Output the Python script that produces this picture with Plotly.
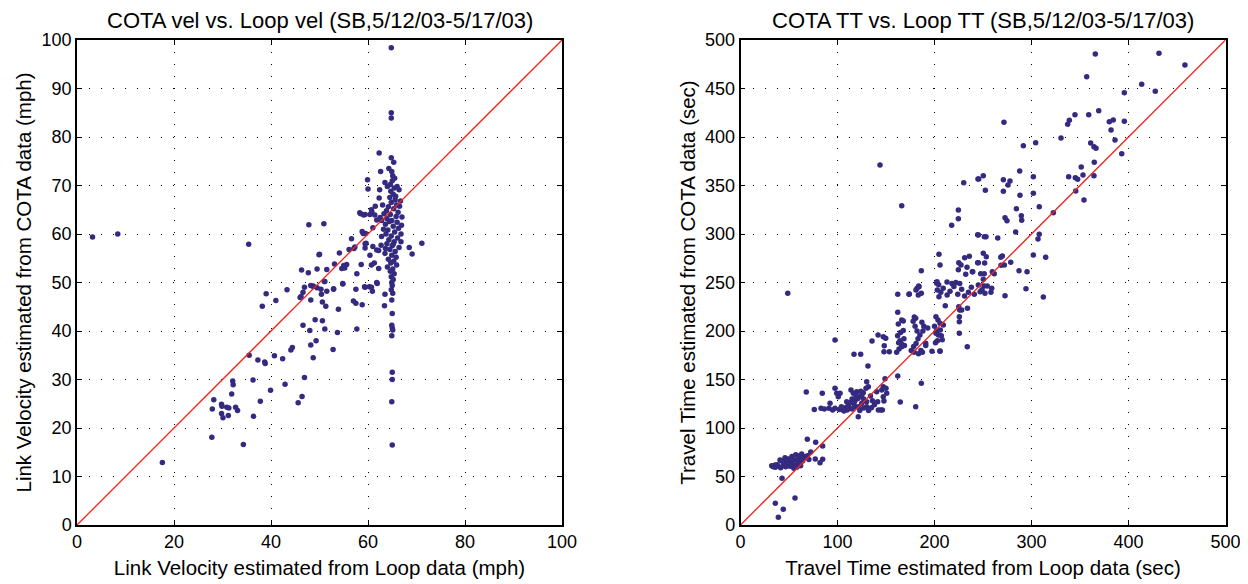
import plotly.graph_objects as go

# ---------------- Left panel: velocities (mph) ----------------
loop_vel = [
    3.2, 8.4, 17.6, 27.8, 34.3, 27.9, 28.2, 29.8, 29.9, 29.8, 30.1, 30.9, 31.3, 31.2, 31.9, 32.1, 32.2, 32.7, 33.1,
    35.5, 36.3, 36.4, 37.3, 37.8, 38.7, 38.8, 39.9, 40.7, 42.4, 42.9, 44.1, 44.4, 45.6, 46.4, 46.9,
    46.6, 48.0, 48.2, 48.7, 49.1, 49.3, 50.6, 51.1, 52.8, 53.7, 57.7,
    38.2, 39.0, 41.0, 43.3, 46.0, 46.6, 46.9, 46.2, 48.2, 48.2, 48.7, 49.5, 50.4, 50.6, 51.3, 51.5, 52.9, 53.9,
    51.1, 54.8, 57.0, 57.5, 58.8, 59.3, 60.3, 60.9, 61.9, 63.5, 63.4, 57.5,
    35.4, 47.8, 50.9, 49.9, 50.0, 46.3, 47.7, 49.5, 51.5, 53.1, 54.6, 55.0, 55.6, 55.2, 54.1, 56.1, 57.1, 56.6,
    57.3, 58.5, 59.4, 60.4, 60.7, 61.5, 58.8, 59.5, 59.0, 59.6, 61.0, 61.8, 59.4, 59.4, 60.4, 62.2, 62.7, 61.3,
    62.2, 60.7, 58.6, 57.7, 61.8, 59.4, 60.7, 54.8, 48.7, 51.0, 52.9, 50.3,
    59.9, 60.0, 62.3, 62.6, 63.5, 62.4, 62.3, 66.4, 62.5, 62.8, 61.0, 66.8, 66.8, 71.1, 68.5, 69.1, 58.3, 59.1,
    60.8, 61.4, 61.8,
    64.8, 64.8, 64.8, 64.8, 65.3, 64.9, 65.1, 65.0, 64.6, 65.4, 64.7, 65.2, 64.5, 65.6, 64.8, 65.9, 64.2, 65.3,
    63.8, 66.2, 64.6, 65.8, 63.9, 64.9, 66.0, 63.6, 65.2, 66.3, 64.1, 65.5, 63.7, 64.8, 66.1, 64.3, 65.4, 63.9,
    65.0, 66.4, 64.5, 65.6, 63.5, 64.9, 65.8, 64.2, 65.3, 64.7, 65.9, 64.0, 65.1, 64.6, 65.4, 64.8, 65.2, 64.9,
    65.0, 64.8, 65.1, 64.9, 65.0, 64.9, 65.0, 65.1, 64.9, 65.0, 65.0, 64.9, 65.0,
    63.0, 63.3, 64.0, 66.5, 67.0, 66.7, 63.2, 62.8, 66.9, 65.5, 64.3, 65.7, 64.4, 65.2, 63.6, 66.0,
]
cota_vel = [
    59.4, 60.0, 12.9, 18.1, 16.6, 23.9, 25.8, 24.9, 24.5, 23.0, 22.1, 24.3, 24.1, 22.6, 27.0, 29.7, 28.9, 24.3, 23.6,
    35.0, 29.9, 22.4, 34.0, 25.5, 33.6, 33.3, 27.8, 34.9, 34.3, 29.0, 36.1, 36.6, 25.2, 26.5, 30.4,
    41.2, 40.1, 37.1, 34.5, 42.3, 38.0, 42.1, 40.4, 36.2, 39.7, 40.4,
    45.1, 47.7, 46.3, 48.5, 46.9, 48.0, 49.0, 47.1, 46.4, 49.4, 49.2, 48.9, 47.6, 46.0, 45.1, 48.2, 48.6, 44.5,
    50.2, 49.7, 46.2, 45.7, 45.4, 49.1, 49.1, 48.2, 49.8, 47.6, 45.2, 48.6,
    57.9, 61.9, 62.1, 55.7, 55.8, 52.6, 52.0, 52.8, 52.7, 53.8, 52.9, 53.5, 53.7, 53.0, 56.1, 56.8, 57.0, 59.0,
    57.3, 64.2, 64.0, 64.0, 65.0, 65.7, 60.5, 60.1, 60.1, 58.1, 57.4, 56.7, 58.0, 57.1, 55.6, 56.6, 57.7, 54.0,
    52.9, 53.6, 53.7, 51.8, 50.0, 49.0, 49.0, 49.8, 49.3, 50.2, 48.7, 48.6,
    71.2, 69.3, 76.7, 72.9, 70.6, 69.1, 67.4, 69.1, 63.4, 62.8, 61.3, 60.0, 58.4, 58.1, 57.2, 55.9, 64.4, 63.9,
    64.6, 63.9, 62.9,
    98.4, 85.0, 83.9, 75.7, 74.8, 72.9, 72.0, 71.0, 70.2, 69.5, 68.8, 68.2, 67.5, 67.0, 66.5, 66.0, 65.6, 65.2,
    64.8, 64.5, 64.0, 63.6, 63.2, 62.8, 62.4, 62.0, 61.6, 61.2, 60.8, 60.4, 60.0, 59.6, 59.2, 58.8, 58.4, 58.0,
    57.6, 57.2, 56.8, 56.4, 56.0, 55.6, 55.2, 54.8, 54.4, 54.0, 53.6, 53.2, 52.8, 52.3, 51.8, 51.2, 50.6, 50.0,
    49.4, 48.5, 47.8, 46.4, 43.6, 41.2, 40.6, 40.2, 39.0, 31.5, 30.0, 25.4, 16.5,
    66.0, 64.2, 69.8, 65.7, 63.5, 66.8, 61.0, 59.5, 61.8, 71.5, 73.5, 67.8, 62.6, 57.9, 57.0, 69.8,
]

# ---------------- Right panel: travel times (sec) ----------------
loop_tt = [
    365.8, 431.4, 458.2, 356.9, 413.6, 427.6, 395.7, 271.6, 369.3, 344.8, 359.0, 339.0, 337.3, 380.2, 384.3, 395.7,
    382.0, 386.1, 330.4, 304.3, 291.6, 361.0, 364.4, 366.5, 393.0, 364.7, 351.3, 353.1, 364.4, 338.3, 345.2, 347.6,
    345.6, 354.1, 322.5, 301.9, 301.9, 308.0, 287.8, 288.1, 284.4, 289.5, 289.9, 283.7, 272.7, 274.7, 271.0, 271.0,
    275.8, 277.8, 245.6, 250.3, 252.4, 245.2, 251.4, 253.1, 265.2, 306.7, 308.0, 301.9, 314.6, 268.3, 270.0, 278.6,
    250.3, 253.4, 245.2, 251.7, 268.6, 272.0, 259.6, 261.6, 239.4, 247.6, 251.3, 250.3, 287.1, 295.4, 245.2, 251.0,
    254.4, 259.0, 294.3, 247.0, 249.0, 252.0, 258.2, 272.7, 312.2,
    143.8, 166.2, 230.1, 244.8, 224.6, 224.6, 217.7, 244.5, 204.6, 205.7, 186.4, 225.0, 227.3, 231.1, 235.9, 233.5,
    224.6, 232.2, 239.0, 244.5, 202.6, 204.3, 212.9, 218.0, 222.0, 183.7, 182.0,
    48.7, 162.1, 173.7, 174.0, 180.9, 183.3, 186.4, 184.0, 202.3, 202.9, 204.6, 206.5, 209.0, 213.0, 216.0, 220.0,
    224.0, 228.0, 231.0, 235.0, 238.0, 226.0, 241.0,
    162.1, 166.2, 167.8, 179.2, 180.6, 201.5, 203.6, 205.7, 209.1, 201.5, 205.7, 211.1, 225.0, 225.6, 225.6, 225.6,
    233.8, 234.0, 226.0, 228.0,
    97.4, 117.0, 123.9, 131.4, 135.6, 141.8, 147.2, 149.7, 148.2, 147.9, 153.4, 161.0, 163.4, 166.2, 162.7, 167.8,
    162.0, 164.5, 166.0, 168.5, 165.0, 163.0, 169.0,
    178.0, 180.0, 182.0, 185.0, 188.0, 183.0, 181.0, 178.5, 176.0, 179.0, 183.5, 187.5, 190.9, 186.0, 191.0, 189.0,
    193.0, 187.0, 197.4, 205.7,
    200.0, 202.0, 204.0, 206.0, 207.0, 203.0, 201.0, 208.0,
    67.8, 84.3, 97.4, 99.2, 100.8, 102.6, 92.3, 76.1, 83.0, 86.4, 91.2, 97.4, 101.9, 106.7, 112.9, 118.0, 121.4,
    125.0, 130.1, 109.5, 111.1, 113.9, 116.3, 119.8, 122.5, 125.0, 126.6, 115.0, 118.0, 121.0, 121.4, 130.1, 131.8,
    129.4, 127.0, 130.0, 132.0, 140.4, 141.4, 142.1, 144.8, 146.2, 147.2, 149.0, 150.7, 147.2, 147.9, 145.6, 150.0,
    162.1, 164.7, 180.6, 186.4, 104.0, 108.0, 110.0, 115.0, 123.0, 127.0, 135.0, 138.0, 117.0, 113.0, 104.0, 95.0,
    134.0, 136.0, 124.0, 119.0,
    32.2, 33.8, 35.6, 40.7, 41.4, 45.9, 49.3, 52.8, 56.2, 59.6, 63.1, 66.5, 48.0, 51.0, 54.0, 57.5, 60.0, 62.0,
    64.0, 55.0, 58.0, 50.0, 53.0, 57.0, 61.0, 47.0, 44.0, 38.0, 36.0, 68.9, 77.5, 72.4, 77.1, 82.0, 84.7, 84.7,
    42.8, 35.9, 44.1, 39.0, 56.2, 65.0, 69.0, 70.5, 42.0, 46.5,
]
cota_tt = [
    485.6, 486.3, 474.2, 462.2, 454.3, 447.1, 445.7, 415.1, 427.1, 423.0, 423.0, 417.2, 413.1, 415.8, 417.5, 416.2,
    407.2, 396.9, 399.0, 394.1, 391.0, 393.8, 390.0, 388.3, 382.8, 373.9, 369.1, 360.8, 360.1, 359.1, 358.0, 356.4,
    344.3, 335.1, 322.0, 359.1, 342.0, 328.2, 364.9, 339.9, 326.1, 318.9, 314.1, 302.1, 316.8, 313.7, 356.0, 344.0,
    350.5, 354.6, 356.7, 360.1, 345.1, 299.0, 297.2, 297.2, 295.9, 294.8, 299.7, 278.4, 276.0, 276.0, 277.3, 270.8,
    280.1, 276.6, 270.4, 270.1, 267.7, 268.0, 261.1, 259.1, 261.1, 259.1, 259.1, 253.3, 262.2, 261.1, 247.4, 246.4,
    246.4, 244.0, 243.6, 240.5, 242.5, 239.0, 239.9, 236.4, 235.1,
    371.1, 329.2, 352.9, 356.7, 324.7, 315.8, 309.0, 299.3, 279.0, 268.0, 262.2, 270.4, 268.0, 275.6, 277.0, 265.7,
    263.2, 258.4, 261.2, 270.4, 250.8, 247.7, 250.5, 249.0, 250.0, 246.4, 244.0,
    238.9, 237.8, 237.8, 238.1, 242.3, 237.1, 238.9, 245.7, 249.2, 242.3, 235.4, 240.0, 244.0, 237.0, 241.0, 246.0,
    238.0, 243.0, 236.0, 240.0, 245.0, 249.0, 238.0,
    219.3, 211.3, 210.3, 214.4, 213.1, 214.8, 211.3, 207.9, 206.2, 197.6, 179.4, 226.1, 225.0, 214.7, 209.6, 197.6,
    183.8, 223.4, 221.6, 221.6,
    190.7, 176.0, 176.0, 163.9, 189.7, 195.9, 194.1, 192.5, 184.8, 178.7, 178.7, 178.0, 181.4, 183.8, 207.2, 200.6,
    195.0, 190.0, 186.5, 192.0, 198.5, 188.0, 185.0,
    210.0, 205.0, 200.0, 196.0, 200.0, 192.0, 187.0, 184.0, 180.0, 178.0, 176.5, 178.0, 187.3, 180.0, 185.0, 205.0,
    203.0, 209.0, 179.0, 179.0,
    205.0, 200.0, 196.0, 201.0, 195.0, 190.0, 188.0, 191.0,
    137.1, 135.7, 140.9, 135.7, 132.3, 135.7, 125.4, 119.2, 120.3, 119.6, 120.3, 120.3, 119.2, 117.5, 120.3, 122.0, 122.0,
    125.5, 122.0, 127.1, 123.7, 139.2, 135.7, 137.4, 132.3, 134.0, 136.4, 130.0, 128.0, 130.5, 111.6, 147.7, 142.6,
    140.9, 130.0, 127.0, 118.0, 137.4, 127.1, 118.6, 118.6, 118.6, 142.6, 150.8, 135.8, 132.3, 127.8, 139.2, 140.9,
    153.6, 126.8, 122.0, 146.1, 119.0, 121.0, 118.5, 119.5, 118.0, 120.5, 121.0, 124.0, 125.0, 126.0, 122.0, 118.5,
    133.0, 128.0, 138.0, 133.0,
    61.1, 60.1, 61.9, 67.0, 59.1, 69.4, 68.0, 65.3, 67.0, 71.1, 73.2, 70.4, 62.0, 60.5, 61.5, 62.0, 64.5, 61.0,
    66.0, 58.5, 59.5, 64.0, 70.5, 72.5, 68.5, 65.0, 62.5, 62.0, 59.5, 88.3, 85.2, 75.3, 68.0, 64.2, 67.7, 81.4,
    48.1, 22.4, 16.2, 7.9, 27.8, 69.0, 71.5, 67.5, 66.5, 60.0,
]

vel_ticks = [0, 20, 40, 60, 80, 100]
vel_yticks = [0, 10, 20, 30, 40, 50, 60, 70, 80, 90, 100]
tt_ticks = [0, 100, 200, 300, 400, 500]
tt_yticks = [0, 50, 100, 150, 200, 250, 300, 350, 400, 450, 500]

titles = ["COTA vel vs. Loop vel (SB,5/12/03-5/17/03)", "COTA TT vs. Loop TT (SB,5/12/03-5/17/03)"]
xtitles = ["Link Velocity estimated from Loop data (mph)", "Travel Time estimated from Loop data (sec)"]
ytitles = ["Link Velocity estimated from COTA data (mph)", "Travel Time estimated from COTA data (sec)"]

DOT = "rgb(52,42,128)"
RED = "rgb(232,40,32)"
FONT = "Liberation Sans, Arial, sans-serif"

fig = go.Figure()
fig.add_trace(go.Scatter(x=loop_vel, y=cota_vel, mode="markers", xaxis="x", yaxis="y",
                         marker=dict(color=DOT, size=5.5), showlegend=False))
fig.add_trace(go.Scatter(x=[vel_ticks[0], vel_ticks[-1]], y=[vel_ticks[0], vel_ticks[-1]], mode="lines",
                         xaxis="x", yaxis="y", line=dict(color=RED, width=1.3), showlegend=False))
fig.add_trace(go.Scatter(x=loop_tt, y=cota_tt, mode="markers", xaxis="x2", yaxis="y2",
                         marker=dict(color=DOT, size=5.5), showlegend=False))
fig.add_trace(go.Scatter(x=[tt_ticks[0], tt_ticks[-1]], y=[tt_ticks[0], tt_ticks[-1]], mode="lines",
                         xaxis="x2", yaxis="y2", line=dict(color=RED, width=1.3), showlegend=False))

# The page body has an 8px margin; lay out in page pixels minus that offset.
OFF = 8
W, H = 1248 - OFF, 584 - OFF
L1, R1 = 77 - OFF, 562 - OFF
L2, R2 = 740.5 - OFF, 1225.5 - OFF
TOP, BOT = 40 - OFF, 525 - OFF
TITLE_Y = 21 - OFF


def ax(domain, rng, ticks, title, anchor, standoff):
    return dict(
        domain=domain, range=rng, tickvals=ticks, ticktext=[str(t) for t in ticks],
        showline=True, linecolor="black", linewidth=1.5, mirror="ticks",
        ticks="inside", ticklen=5, tickwidth=1, tickcolor="black",
        showgrid=True, gridcolor="black", gridwidth=1.2, griddash="1.2px,10.8px",
        zeroline=False, anchor=anchor, automargin=False,
        tickfont=dict(family=FONT, size=18, color="black"),
        title=dict(text=title, font=dict(family=FONT, size=20.5, color="black"), standoff=standoff),
    )


ydom = [(H - BOT) / H, (H - TOP) / H]
fig.update_layout(
    width=W, height=H, autosize=False,
    margin=dict(l=0, r=0, t=0, b=0),
    paper_bgcolor="white", plot_bgcolor="white",
    xaxis=ax([L1 / W, R1 / W], [0, 100], vel_ticks, xtitles[0], "y", 9),
    yaxis=ax(ydom, [0, 100], vel_yticks, ytitles[0], "x", 4),
    xaxis2=ax([L2 / W, R2 / W], [0, 500], tt_ticks, xtitles[1], "y2", 9),
    yaxis2=ax(ydom, [0, 500], tt_yticks, ytitles[1], "x2", 4),
    annotations=[
        dict(text=titles[0], x=(L1 + R1) / 2 / W, y=(H - TITLE_Y) / H, xref="paper", yref="paper",
             showarrow=False, xanchor="center", yanchor="middle",
             font=dict(family=FONT, size=22, color="black")),
        dict(text=titles[1], x=(L2 + R2) / 2 / W, y=(H - TITLE_Y) / H, xref="paper", yref="paper",
             showarrow=False, xanchor="center", yanchor="middle",
             font=dict(family=FONT, size=22, color="black")),
    ],
)

fig.write_html("out.html")
